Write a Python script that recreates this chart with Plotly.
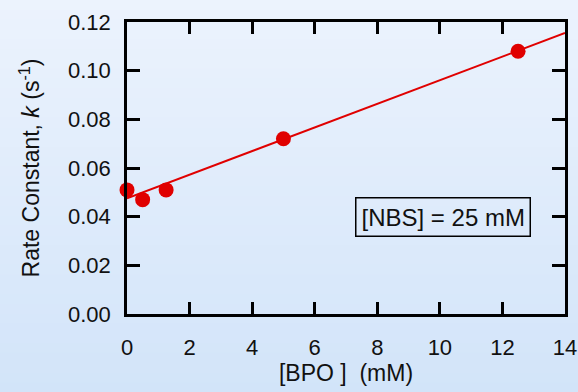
import plotly.graph_objects as go

# Data
bpo_mM = [0, 0.5, 1.25, 5, 12.5]
rate_k = [0.051, 0.047, 0.051, 0.072, 0.108]
fit_x = [0, 14]
fit_y = [0.0475, 0.1155]
x_ticks = [0, 2, 4, 6, 8, 10, 12, 14]
y_ticks = [0.00, 0.02, 0.04, 0.06, 0.08, 0.10, 0.12]

RED = "#e00000"
FONT = "Liberation Sans, Arial, Helvetica, sans-serif"

fig = go.Figure()
fig.add_trace(go.Scatter(x=fit_x, y=fit_y, mode="lines",
                         line=dict(color=RED, width=2), cliponaxis=False,
                         showlegend=False, hoverinfo="skip"))
fig.add_trace(go.Scatter(x=bpo_mM, y=rate_k, mode="markers",
                         marker=dict(color=RED, size=15, line=dict(width=0)),
                         cliponaxis=False, showlegend=False))

# background vertical gradient (light blue)
W, H = 578, 392
L, R, T, B = 127, 13, 22, 78
pw, ph = W - L - R, H - T - B
n = 40
top = (236, 243, 253)
bot = (210, 228, 249)
shapes = []
for i in range(n):
    f = (i + 0.5) / n
    c = tuple(int(round(top[j] + (bot[j] - top[j]) * f)) for j in range(3))
    y1_px = i * H / n
    y2_px = (i + 1) * H / n + 1
    shapes.append(dict(type="rect", xref="paper", yref="paper", layer="below",
                       x0=-L / pw, x1=(W - L) / pw,
                       y0=1 - (y2_px - T) / ph, y1=1 - (y1_px - T) / ph,
                       fillcolor="rgb(%d,%d,%d)" % c, line=dict(width=0)))

axis_common = dict(showgrid=False, zeroline=False, showline=True,
                   linecolor="black", linewidth=2.5, mirror="ticks",
                   ticks="inside", tickcolor="black", tickwidth=2.5,
                   automargin=False,
                   tickfont=dict(family=FONT, size=22, color="#111"))

fig.update_xaxes(range=[0, 14], tickvals=x_ticks, ticklen=12,
                 ticklabelstandoff=12,
                 title=dict(text="[BPO ]&nbsp;&nbsp;(mM)", standoff=6,
                            font=dict(family=FONT, size=23, color="#111")),
                 **axis_common)
fig.update_yaxes(range=[0, 0.12], tickvals=y_ticks, tickformat=".2f", ticklen=13,
                 ticklabelstandoff=9,
                 title=dict(text="Rate Constant, <i>k</i> (s<sup>-1</sup>)", standoff=22,
                            font=dict(family=FONT, size=23, color="#111")),
                 **axis_common)

fig.add_annotation(x=10.1, y=0.0399, xref="x", yref="y",
                   text="[NBS] = 25 mM", showarrow=False,
                   font=dict(family=FONT, size=24, color="#111"),
                   bordercolor="black", borderwidth=1.5, borderpad=5,
                   bgcolor="rgba(0,0,0,0)")

fig.update_layout(width=W, height=H,
                  margin=dict(l=L, r=R, t=T, b=B, autoexpand=False),
                  paper_bgcolor="rgb(223,235,251)",
                  plot_bgcolor="rgba(0,0,0,0)",
                  shapes=shapes,
                  font=dict(family=FONT))

fig.write_html("out.html")
